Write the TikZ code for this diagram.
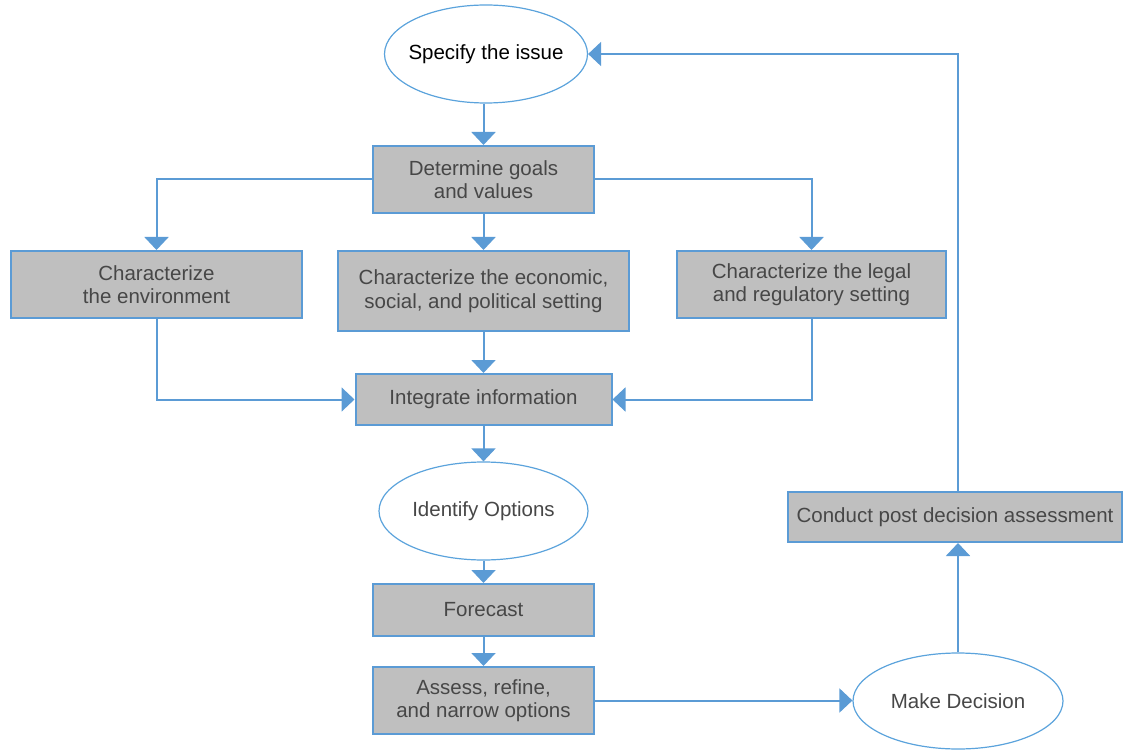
\documentclass[tikz,border=0pt]{standalone}
\usepackage{fontspec}
\setmainfont{Liberation Sans}
\usetikzlibrary{arrows.meta,shapes.geometric}
\definecolor{boxfill}{HTML}{BFBFBF}
\definecolor{edgeblue}{HTML}{5B9BD5}
\definecolor{ellblue}{HTML}{5BA3DC}
\definecolor{txtgray}{HTML}{474747}
\newcommand{\ovaltext}[1]{\makebox[0pt][c]{#1}}
\tikzset{
  procbox/.style={draw=edgeblue, line width=2pt, fill=boxfill, inner sep=0pt,
    align=center, text=txtgray, font=\fontsize{20.5}{23.5}\selectfont},
  oval/.style={ellipse, draw=ellblue, line width=1.2pt, fill=white, inner sep=0pt,
    text=txtgray, font=\fontsize{20.5}{23.5}\selectfont},
  link/.style={draw=edgeblue, line width=2pt, -{Triangle[width=24pt,length=13pt]}},
  plain/.style={draw=edgeblue, line width=2pt}
}
\begin{document}
\begin{tikzpicture}[x=1pt,y=-1pt]
\useasboundingbox (0,0) rectangle (1123,751);
\node[oval, minimum width=203pt, minimum height=98pt, text=black] (spec) at (486,54) {\ovaltext{Specify the issue}};
\node[procbox, minimum width=221pt, minimum height=67pt] (det) at (483.5,179.5) {Determine goals\\and values};
\node[procbox, minimum width=291pt, minimum height=67pt] (env) at (156.5,284.5) {Characterize\\the environment};
\node[procbox, minimum width=291pt, minimum height=80pt] (mid) at (483.5,291) {Characterize the economic,\\social, and political setting};
\node[procbox, minimum width=269pt, minimum height=67pt] (leg) at (811.5,284.5) {Characterize the legal\\and regulatory setting};
\node[procbox, minimum width=256pt, minimum height=51pt] (integ) at (483.5,399.5) {Integrate information};
\node[oval, minimum width=209pt, minimum height=98pt] (idopt) at (483.5,511) {\ovaltext{Identify Options}};
\node[procbox, minimum width=221pt, minimum height=52pt] (fore) at (483.5,610) {Forecast};
\node[procbox, minimum width=221pt, minimum height=67pt] (assess) at (483.5,700.5) {Assess, refine,\\and narrow options};
\node[oval, minimum width=210pt, minimum height=96pt] (dec) at (958,701) {\ovaltext{Make Decision}};
\node[procbox, minimum width=334pt, minimum height=50pt] (cond) at (955,517) {Conduct post decision assessment};

\draw[link] (spec.south -| det.north) -- (det.north);
\draw[link] (det.west) -| (env.north);
\draw[link] (det.south) -- (mid.north);
\draw[link] (det.east) -| (leg.north);
\draw[link] (env.south) |- (integ.west);
\draw[link] (mid.south) -- (integ.north);
\draw[link] (leg.south) |- (integ.east);
\draw[link] (integ.south) -- (idopt.north);
\draw[link] (idopt.south) -- (fore.north);
\draw[link] (fore.south) -- (assess.north);
\draw[link] (assess.east) -- (assess.east -| dec.west);
\coordinate (up) at (dec.north |- cond.south);
\coordinate (upn) at (dec.north |- cond.north);
\draw[link] (dec.north) -- (up);
\draw[link] (upn) |- (spec.east);
\end{tikzpicture}
\end{document}
